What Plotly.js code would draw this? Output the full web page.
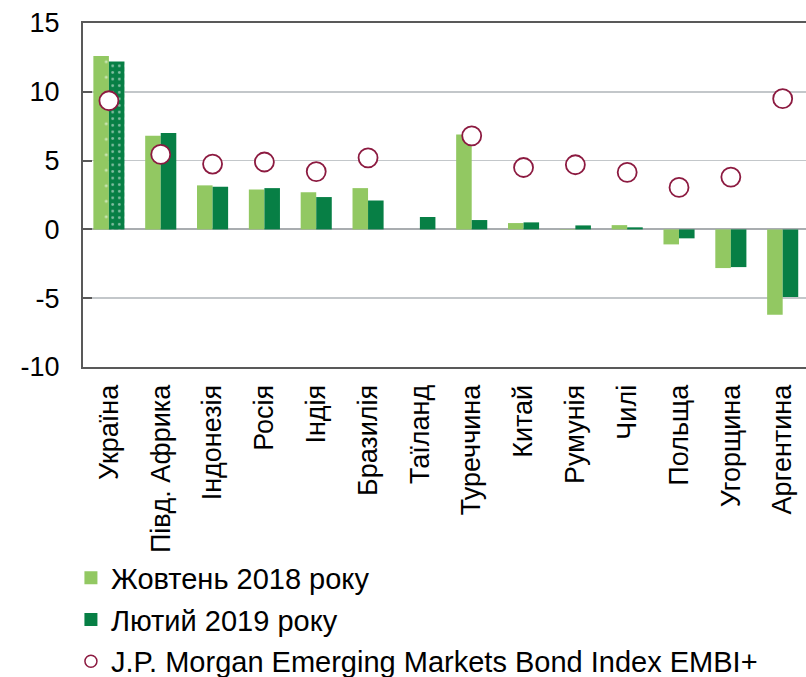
<!DOCTYPE html>
<html>
<head>
<meta charset="utf-8">
<script src="https://cdn.plot.ly/plotly-3.0.1.min.js"></script>
<style>
  html, body { margin: 0; padding: 0; background: #fff; }
  #chart { width: 806px; height: 677px; }
</style>
</head>
<body>
<div id="chart"></div>
<script>
// countries, in the order they appear
var countries = ['Україна', 'Півд. Африка', 'Індонезія', 'Росія', 'Індія', 'Бразилія', 'Таїланд',
  'Туреччина', 'Китай', 'Румунія', 'Чилі', 'Польща', 'Угорщина', 'Аргентина'];

// October 2018 (light green)
var oct2018 = [12.6, 6.8, 3.2, 2.9, 2.7, 3.0, 0.0, 6.9, 0.46, 0.03, 0.31, -1.09, -2.81, -6.2];
// February 2019 (dark green)
var feb2019 = [12.2, 7.0, 3.1, 3.0, 2.35, 2.1, 0.9, 0.68, 0.51, 0.29, 0.15, -0.65, -2.74, -4.92];
// J.P. Morgan EMBI+ (circles)
var embi = [9.35, 5.45, 4.75, 4.9, 4.2, 5.2, null, 6.8, 4.5, 4.7, 4.15, 3.05, 3.8, 9.5];

var yTicks = [-10, -5, 0, 5, 10, 15];
var yTickText = ['-10', '-5', '0', '5', '10', '15'];

var legendNames = ['Жовтень 2018 року', 'Лютий 2019 року', 'J.P. Morgan Emerging Markets Bond Index EMBI+'];

var lightGreen = '#92c862';
var darkGreen = '#077f45';
var wine = '#8c1a40';
var fontFam = 'Liberation Sans, Arial, sans-serif';

// dotted pattern only on the first bar (Ukraine)
function dots(size, solidity) {
  return {
    shape: countries.map(function (c, i) { return i === 0 ? '.' : ''; }),
    size: size,
    solidity: solidity,
    fillmode: 'overlay',
    fgcolor: '#ffffff'
  };
}

var data = [
  {
    type: 'bar', x: countries, y: oct2018, name: legendNames[0], showlegend: false,
    marker: { color: lightGreen, line: { width: 0 }, pattern: dots(15.5, 0.03) }
  },
  {
    type: 'bar', x: countries, y: feb2019, name: legendNames[1], showlegend: false,
    marker: { color: darkGreen, line: { width: 0 }, pattern: dots(6.6, 0.14) }
  },
  {
    type: 'scatter', mode: 'markers', x: countries, y: embi, name: legendNames[2], showlegend: false,
    marker: { symbol: 'circle', size: 19, color: '#ffffff', line: { color: wine, width: 1.8 } }
  },
  // legend-only entries (plain colours, no dots)
  {
    type: 'scatter', mode: 'markers', x: [null], y: [null], name: legendNames[0], legendgroup: 'a',
    marker: { symbol: 'square', size: 13, color: lightGreen }
  },
  {
    type: 'scatter', mode: 'markers', x: [null], y: [null], name: legendNames[1], legendgroup: 'b',
    marker: { symbol: 'square', size: 13, color: darkGreen }
  },
  {
    type: 'scatter', mode: 'markers', x: [null], y: [null], name: legendNames[2], legendgroup: 'c',
    marker: { symbol: 'circle', size: 12, color: '#ffffff', line: { color: wine, width: 1.5 } }
  }
];

var layout = {
  width: 806,
  height: 677,
  margin: { l: 83, r: 0, t: 23, b: 310, autoexpand: false },
  paper_bgcolor: '#ffffff',
  plot_bgcolor: '#ffffff',
  font: { family: fontFam, size: 27, color: '#000000' },
  barmode: 'group',
  bargap: 0.4,
  bargroupgap: 0,
  showlegend: true,
  legend: {
    xref: 'container', yref: 'container',
    x: 0.088, y: 0.184, xanchor: 'left', yanchor: 'top',
    font: { family: fontFam, size: 29, color: '#000000' },
    tracegroupgap: 1,
    bgcolor: 'rgba(0,0,0,0)'
  },
  xaxis: {
    type: 'category',
    range: [-0.5, 13.45],
    automargin: false,
    tickangle: -90,
    ticks: '',
    showgrid: false,
    showline: true, mirror: true, linecolor: '#595959', linewidth: 2,
    tickfont: { family: fontFam, size: 27 },
    ticklabelstandoff: 5
  },
  yaxis: {
    range: [-10, 15],
    automargin: false,
    tickvals: yTicks,
    ticktext: yTickText,
    ticks: 'inside', ticklen: 9, tickwidth: 2, tickcolor: '#595959',
    showgrid: true, gridcolor: '#c3c7ca', gridwidth: 1.5,
    zeroline: true, zerolinecolor: '#a9adb0', zerolinewidth: 2,
    showline: true, mirror: true, linecolor: '#595959', linewidth: 2,
    tickfont: { family: fontFam, size: 27 },
    ticklabelstandoff: 16
  }
};

Plotly.newPlot('chart', data, layout, { staticPlot: true });
</script>
</body>
</html>
